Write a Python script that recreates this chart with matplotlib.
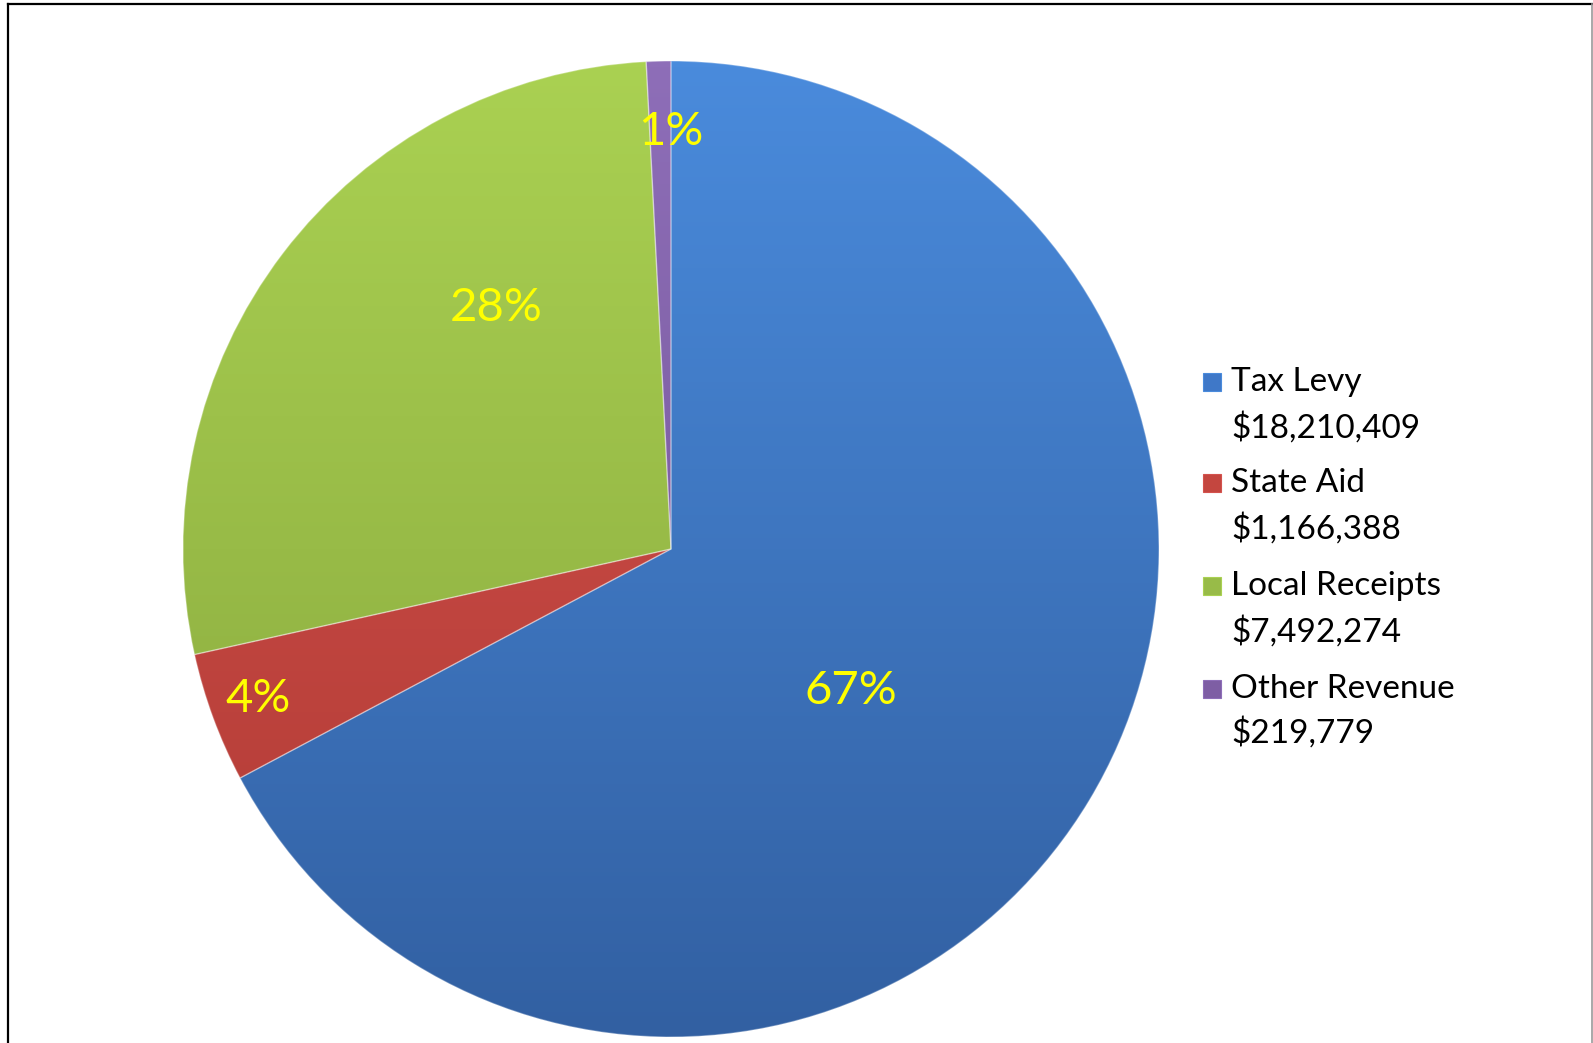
import numpy as np
import matplotlib
matplotlib.use("Agg")
import matplotlib.pyplot as plt
from matplotlib.colors import LinearSegmentedColormap
from matplotlib.patches import Rectangle
from matplotlib.lines import Line2D

categories = ["Tax Levy", "State Aid", "Local Receipts", "Other Revenue"]
values = [18210409, 1166388, 7492274, 219779]
amount_labels = ["$18,210,409", "$1,166,388", "$7,492,274", "$219,779"]

top_colors = ["#4A8BDC", "#D4524D", "#AAD152", "#8E6EB8"]
bottom_colors = ["#3260A2", "#B03A34", "#86A53C", "#6E5090"]
mid_colors = ["#3F78C8", "#C4463F", "#98BB48", "#7E5EA4"]

plt.rcParams['font.family'] = ['Lato', 'DejaVu Sans']

W, H = 1593, 1043
fig = plt.figure(figsize=(W / 100, H / 100), dpi=100)
fig.patch.set_facecolor("white")

cx, cy, R = 671, 549, 488
ax = fig.add_axes([(cx - R) / W, (H - cy - R) / H, 2 * R / W, 2 * R / H])
ax.set_aspect("equal")
ax.axis("off")

wedges, _ = ax.pie(values, startangle=90, counterclock=False, colors=mid_colors,
                   wedgeprops=dict(linewidth=0), radius=1.0, center=(0, 0), frame=False)
ax.set_xlim(-1, 1)
ax.set_ylim(-1, 1)

grad = np.linspace(0, 1, 256).reshape(-1, 1)
for w, tc, bc in zip(wedges, top_colors, bottom_colors):
    cmap = LinearSegmentedColormap.from_list("g", [tc, bc])
    im = ax.imshow(grad, cmap=cmap, extent=(-1, 1, -1, 1), origin="upper",
                   aspect="auto", zorder=2, interpolation="bilinear")
    im.set_clip_path(w)
    w.set_zorder(1)

for w, bc in zip(wedges, bottom_colors):
    w.set_edgecolor((1, 1, 1, 0.3))
    w.set_linewidth(1.0)
    w.set_zorder(3)
    w.set_facecolor("none")

total = sum(values)
pct_text = [f"{round(v / total * 100):d}%" for v in values]
label_pos = [(0.369, -0.291), (-0.846, -0.307), (-0.359, 0.494), (0.0, 0.854)]
for t, (x, y) in zip(pct_text, label_pos):
    ax.text(x, y, t, color="#FFFF00", fontsize=34, ha="center", va="center", zorder=5)

# legend
text_x = 1231
mark_x0, mark_sz = 1203, 18
ys = [(382, 428), (483, 529), (586, 632), (689, 733)]
for (y1, y2), name, amt, c, tc in zip(ys, categories, amount_labels, mid_colors, top_colors):
    fig.text(text_x / W, 1 - y1 / H, name, fontsize=24, color="black", ha="left", va="center")
    fig.text(text_x / W, 1 - y2 / H, amt, fontsize=24, color="black", ha="left", va="center")
    fig.patches.append(Rectangle((mark_x0 / W, 1 - (y1 + mark_sz / 2) / H), mark_sz / W, mark_sz / H,
                                 transform=fig.transFigure, facecolor=c, edgecolor=tc, linewidth=0.8))

# frame (no bottom edge)
fig.lines.append(Line2D([8 / W, 8 / W], [0, 1 - 4 / H], transform=fig.transFigure, color="black", linewidth=1.6))
fig.lines.append(Line2D([8 / W, 1592 / W], [1 - 4 / H, 1 - 4 / H], transform=fig.transFigure, color="black", linewidth=1.6))
fig.lines.append(Line2D([1591.5 / W, 1591.5 / W], [0, 1 - 4 / H], transform=fig.transFigure, color="#999999", linewidth=1.2))

fig.savefig("out.png", dpi=100, facecolor="white")
